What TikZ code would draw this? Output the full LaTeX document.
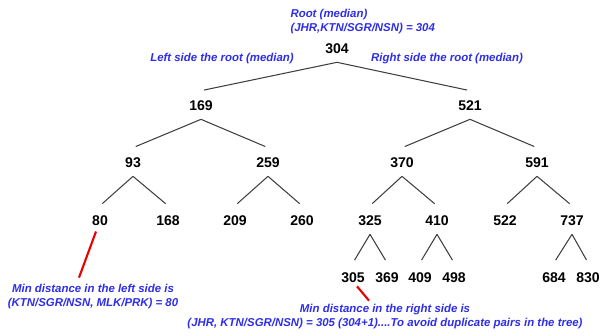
\documentclass[tikz,border=0pt]{standalone}
\usepackage{fontspec}
\setmainfont{Liberation Sans}
\usepackage{xcolor}
\usepackage{tikz}
\definecolor{noteblue}{RGB}{45,45,235}
\definecolor{markred}{RGB}{235,0,0}
\tikzset{every picture/.style={line width=0.6pt}}
\tikzset{num/.style={font=\fontsize{8}{9}\selectfont\bfseries, inner xsep=1pt, inner ysep=5pt, text height=5.7pt, text depth=0pt}}
\tikzset{bluenote/.style={font=\fontsize{6.5}{8}\selectfont\bfseries\itshape, text=noteblue, inner sep=0pt}}
\tikzset{branch/.style={draw=black!75, shorten >=1.7pt}}
\tikzset{redmark/.style={draw=markred, line width=1.2pt}}

\begin{document}
\begin{tikzpicture}
\useasboundingbox (0,0) rectangle (12.02,-6.70);
% root and the labels round it
\node[bluenote, align=left, anchor=west] (rootnote) at (5.80,-0.44) {Root (median)\\(JHR,KTN/SGR/NSN) = 304};
\node[num] (304) at (6.74,-0.96) {304};
\node[bluenote] (leftlbl) at (4.44,-1.18) {Left side the root (median)};
\node[bluenote] (rightlbl) at (8.94,-1.18) {Right side the root (median)};
%
\node[num] (169) at (4.02,-2.10) {169};
\node[num] (521) at (9.40,-2.10) {521};
%
\node[num] (93) at (2.66,-3.24) {93};
\node[num] (259) at (5.36,-3.24) {259};
\node[num] (370) at (8.04,-3.24) {370};
\node[num] (591) at (10.74,-3.24) {591};
%
\node[num] (80) at (2.00,-4.40) {80};
\node[num] (168) at (3.36,-4.40) {168};
\node[num] (209) at (4.70,-4.40) {209};
\node[num] (260) at (6.04,-4.40) {260};
\node[num] (325) at (7.40,-4.40) {325};
\node[num] (410) at (8.74,-4.40) {410};
\node[num] (522) at (10.10,-4.40) {522};
\node[num] (737) at (11.44,-4.40) {737};
%
\node[num] (305) at (7.06,-5.54) {305};
\node[num] (369) at (7.74,-5.54) {369};
\node[num] (409) at (8.40,-5.54) {409};
\node[num] (498) at (9.08,-5.54) {498};
\node[num] (684) at (11.08,-5.54) {684};
\node[num] (830) at (11.76,-5.54) {830};
% branches
\draw[branch] (304.south) -- (169.north);
\draw[branch] (304.south) -- (521.north);
\draw[branch] (169.south) -- (93.north);
\draw[branch] (169.south) -- (259.north);
\draw[branch] (521.south) -- (370.north);
\draw[branch] (521.south) -- (591.north);
\draw[branch] (93.south) -- (80.north);
\draw[branch] (93.south) -- (168.north);
\draw[branch] (259.south) -- (209.north);
\draw[branch] (259.south) -- (260.north);
\draw[branch] (370.south) -- (325.north);
\draw[branch] (370.south) -- (410.north);
\draw[branch] (591.south) -- (522.north);
\draw[branch] (591.south) -- (737.north);
\draw[branch] (325.south) -- (305.north);
\draw[branch] (325.south) -- (369.north);
\draw[branch] (410.south) -- (409.north);
\draw[branch] (410.south) -- (498.north);
\draw[branch] (737.south) -- (684.north);
\draw[branch] (737.south) -- (830.north);
% minimum distance notes
\node[bluenote, align=center] (leftnote) at (1.86,-5.93) {Min distance in the left side is\\(KTN/SGR/NSN, MLK/PRK) = 80};
\node[bluenote, align=center] (rightnote) at (7.70,-6.33) {Min distance in the right side is\\(JHR, KTN/SGR/NSN) = 305 (304+1)....To avoid duplicate pairs in the tree)};
\draw[redmark] ([xshift=-0.08cm,yshift=0.056cm]80.south) -- ([xshift=-0.28cm,yshift=0.12cm]leftnote.north);
\draw[redmark] ([xshift=0.08cm,yshift=0.10cm]305.south) -- ([xshift=-0.32cm,yshift=0.06cm]rightnote.north);
\end{tikzpicture}
\end{document}
